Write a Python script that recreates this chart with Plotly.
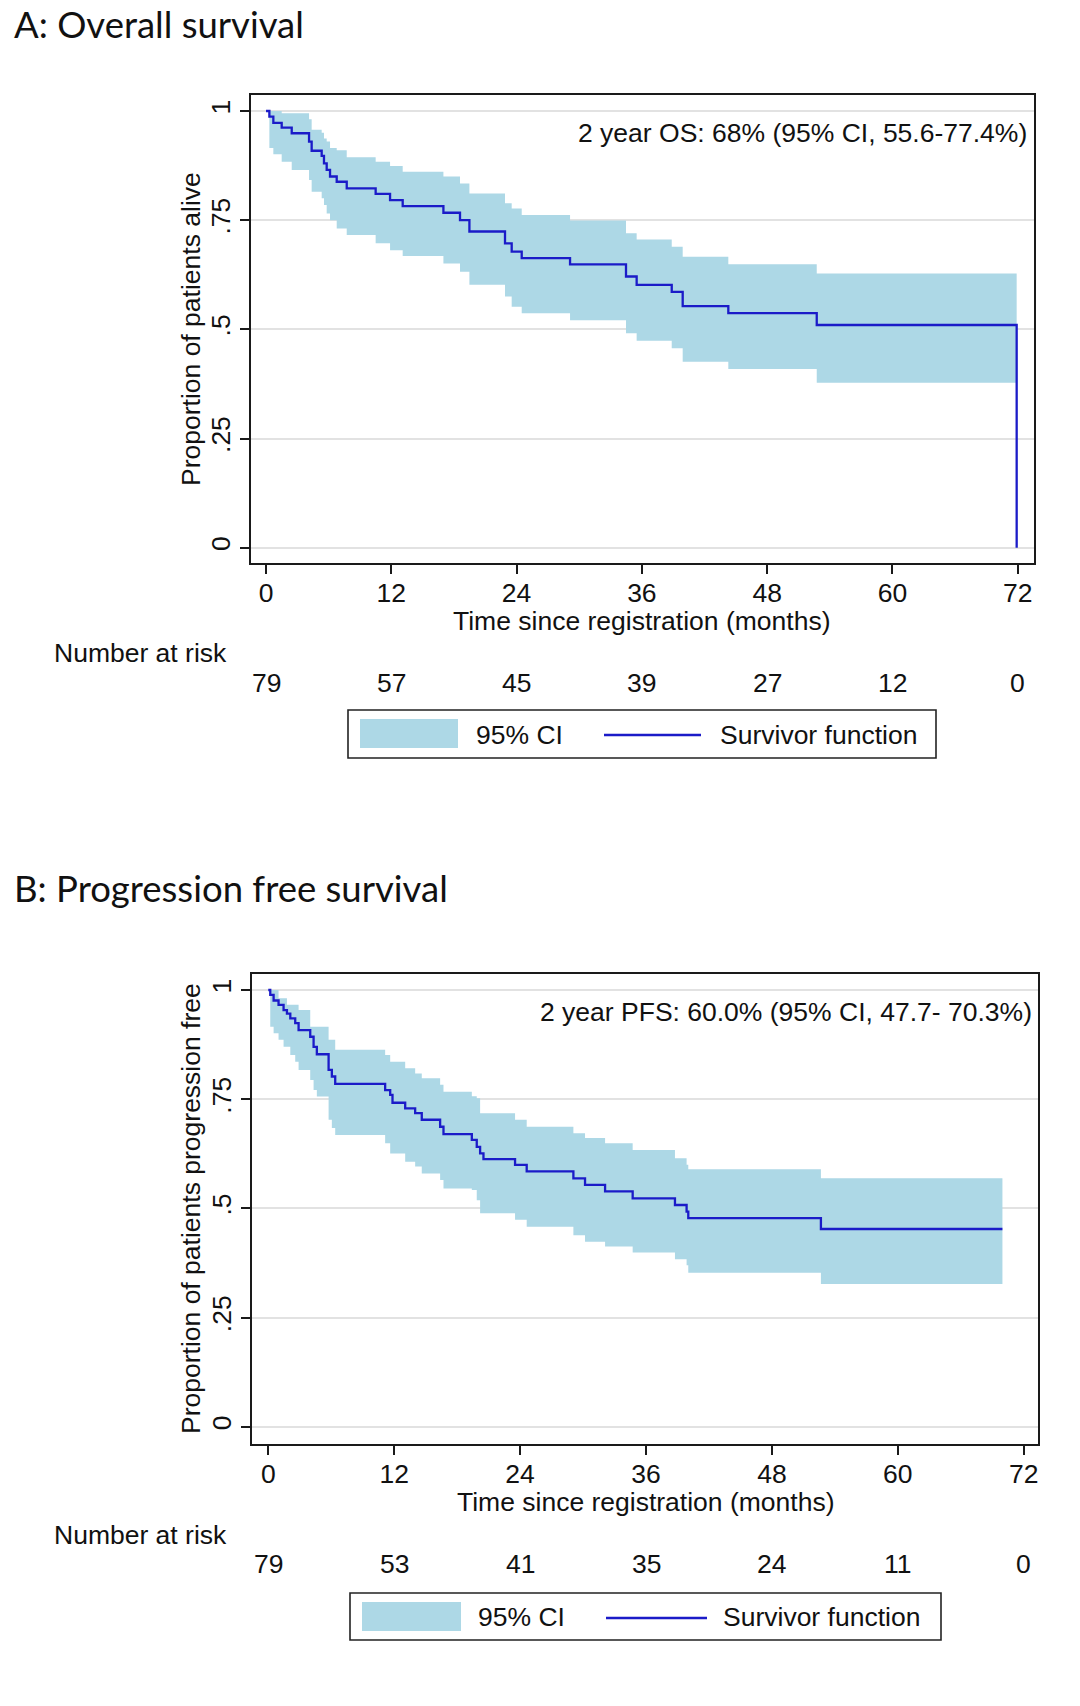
import plotly.graph_objects as go

W, H = 1080, 1706

# ---------------- Data: A, Overall survival ----------------
os_time = [0, 0.32, 0.70, 1.50, 2.46, 4.12, 4.37, 5.33, 5.55, 5.81, 6.13, 6.77, 7.73,
           10.50, 11.88, 13.09, 16.99, 18.58, 19.48, 22.89, 23.53, 24.49, 29.12,
           34.48, 35.50, 38.86, 39.91, 44.28, 52.75, 71.90]
os_surv = [1.0, 0.987, 0.973, 0.962, 0.949, 0.930, 0.909, 0.897, 0.880, 0.865, 0.850, 0.838, 0.823,
           0.810, 0.796, 0.782, 0.767, 0.750, 0.724, 0.697, 0.678, 0.663, 0.649,
           0.621, 0.602, 0.586, 0.553, 0.537, 0.510, 0.0]
os_lo = [1.0, 0.915, 0.901, 0.884, 0.865, 0.842, 0.815, 0.800, 0.785, 0.765, 0.750, 0.731, 0.716,
         0.697, 0.681, 0.668, 0.651, 0.632, 0.602, 0.575, 0.552, 0.537, 0.521,
         0.491, 0.474, 0.457, 0.426, 0.409, 0.378]
os_hi = [1.0, 1.0, 1.0, 0.995, 0.995, 0.981, 0.957, 0.950, 0.937, 0.930, 0.915, 0.910, 0.894,
         0.884, 0.874, 0.861, 0.850, 0.834, 0.811, 0.789, 0.777, 0.762, 0.749,
         0.720, 0.706, 0.689, 0.666, 0.649, 0.628]
os_note = "2 year OS: 68% (95% CI, 55.6-77.4%)"

# ---------------- Data: B, Progression free survival ----------------
pfs_time = [0, 0.19, 0.51, 0.98, 1.46, 1.78, 2.10, 2.57, 2.89, 4.00, 4.32, 4.63, 5.75, 6.06, 6.38,
            11.14, 11.62, 11.84, 13.05, 14.00, 14.63, 16.38, 16.70, 19.40, 19.87, 20.19, 20.51,
            23.52, 24.63, 29.08, 30.19, 32.10, 34.73, 38.76, 39.87, 40.03, 52.67]
pfs_surv = [1.0, 0.989, 0.976, 0.966, 0.954, 0.946, 0.935, 0.924, 0.908, 0.893, 0.870, 0.853, 0.817, 0.802, 0.785,
            0.771, 0.760, 0.742, 0.729, 0.718, 0.703, 0.687, 0.670, 0.657, 0.641, 0.626, 0.613,
            0.600, 0.585, 0.569, 0.554, 0.539, 0.523, 0.508, 0.493, 0.478, 0.453]
pfs_lo = [1.0, 0.916, 0.901, 0.886, 0.870, 0.870, 0.851, 0.836, 0.817, 0.794, 0.771, 0.756, 0.703, 0.684, 0.668,
          0.649, 0.626, 0.626, 0.607, 0.596, 0.580, 0.565, 0.546, 0.542, 0.519, 0.489, 0.489,
          0.474, 0.458, 0.439, 0.424, 0.413, 0.399, 0.384, 0.370, 0.353, 0.327]
pfs_hi = [1.0, 1.0, 1.0, 0.981, 0.981, 0.966, 0.966, 0.966, 0.954, 0.916, 0.916, 0.916, 0.886, 0.886, 0.863,
          0.851, 0.836, 0.836, 0.821, 0.809, 0.798, 0.783, 0.767, 0.757, 0.752, 0.718, 0.718,
          0.703, 0.687, 0.672, 0.661, 0.649, 0.634, 0.615, 0.600, 0.590, 0.569]
pfs_end = 69.97
pfs_note = "2 year PFS: 60.0% (95% CI, 47.7- 70.3%)"

# ---------------- Axis / risk table ----------------
risk_times = [0, 12, 24, 36, 48, 60, 72]
os_risk = [79, 57, 45, 39, 27, 12, 0]
pfs_risk = [79, 53, 41, 35, 24, 11, 0]
y_ticks = [0, 0.25, 0.5, 0.75, 1]
y_ticktext = ["0", ".25", ".5", ".75", "1"]

CI_COLOR = "#add8e6"
LINE_COLOR = "#1b1bc8"
AX_COLOR = "#1a1a1a"
FONT = "Liberation Sans, Arial, Helvetica, sans-serif"
TITLE_FONT = "Lato, Open Sans, sans-serif"
FS = 26.5


def fx(p):
    return p / W


def fy(p):
    return 1 - p / H


fig = go.Figure()

# ---- Panel A ----
band_x = os_time
band_lo = os_lo + [os_lo[-1]]
band_hi = os_hi + [os_hi[-1]]
fig.add_trace(go.Scatter(x=band_x, y=band_lo, mode="lines", line=dict(width=0, shape="hv"),
                         xaxis="x", yaxis="y", hoverinfo="skip", showlegend=False))
fig.add_trace(go.Scatter(x=band_x, y=band_hi, mode="lines", line=dict(width=0, shape="hv"),
                         fill="tonexty", fillcolor=CI_COLOR, xaxis="x", yaxis="y",
                         name="95% CI", showlegend=False))
fig.add_trace(go.Scatter(x=os_time, y=os_surv, mode="lines",
                         line=dict(color=LINE_COLOR, width=2.3, shape="hv"),
                         xaxis="x", yaxis="y", name="Survivor function", showlegend=False))

# ---- Panel B ----
bx = pfs_time + [pfs_end]
fig.add_trace(go.Scatter(x=bx, y=pfs_lo + [pfs_lo[-1]], mode="lines", line=dict(width=0, shape="hv"),
                         xaxis="x2", yaxis="y2", hoverinfo="skip", showlegend=False))
fig.add_trace(go.Scatter(x=bx, y=pfs_hi + [pfs_hi[-1]], mode="lines", line=dict(width=0, shape="hv"),
                         fill="tonexty", fillcolor=CI_COLOR, xaxis="x2", yaxis="y2",
                         name="95% CI", showlegend=False))
fig.add_trace(go.Scatter(x=bx, y=pfs_surv + [pfs_surv[-1]], mode="lines",
                         line=dict(color=LINE_COLOR, width=2.3, shape="hv"),
                         xaxis="x2", yaxis="y2", name="Survivor function", showlegend=False))

tickfont = dict(family=FONT, size=FS, color="#111111")


def xaxis_cfg(domain, rng):
    return dict(domain=domain, range=rng, tickvals=risk_times, ticks="outside", ticklen=9,
                tickwidth=1.5, tickcolor=AX_COLOR, showline=True, linecolor=AX_COLOR,
                linewidth=1.6, mirror=True, showgrid=False, zeroline=False,
                tickfont=tickfont, ticklabelstandoff=-4, fixedrange=True)


def yaxis_cfg(domain, rng, anchor):
    return dict(domain=domain, range=rng, tickvals=y_ticks, ticktext=y_ticktext, tickangle=-90,
                ticks="outside", ticklen=9, tickwidth=1.5, tickcolor=AX_COLOR, showline=True,
                linecolor=AX_COLOR, linewidth=1.6, mirror=True, showgrid=True,
                gridcolor="#e2e2e2", gridwidth=1.5, zeroline=False, tickfont=tickfont,
                anchor=anchor, fixedrange=True)


# pixel geometry of the two plot frames
A_l, A_r, A_t, A_b = 251, 1034, 95, 563
B_l, B_r, B_t, B_b = 252, 1038, 974, 1444

fig.update_layout(
    width=W, height=H,
    margin=dict(l=0, r=0, t=0, b=0),
    paper_bgcolor="white", plot_bgcolor="white",
    font=dict(family=FONT, size=FS, color="#111111"),
    xaxis=xaxis_cfg([fx(A_l), fx(A_r)], [-1.44, 73.56]) | dict(anchor="y"),
    yaxis=yaxis_cfg([fy(A_b), fy(A_t)], [-0.035, 1.0366], "x"),
    xaxis2=xaxis_cfg([fx(B_l), fx(B_r)], [-1.55, 73.36]) | dict(anchor="y2"),
    yaxis2=yaxis_cfg([fy(B_b), fy(B_t)], [-0.039, 1.0366], "x2"),
    showlegend=False,
)

ann = []
shapes = []


def panel_text(title, title_y, ytitle, ytitle_y, note, note_y, xref, xt_y, nr_y, num_y, risk,
               leg):
    ann.append(dict(text=title, x=fx(12), y=fy(title_y), xref="paper", yref="paper",
                    xanchor="left", yanchor="middle", showarrow=False,
                    font=dict(family=TITLE_FONT, size=36.5, color="#111111")))
    ann.append(dict(text=ytitle, x=fx(191), y=fy(ytitle_y), xref="paper", yref="paper",
                    textangle=-90, xanchor="center", yanchor="middle", showarrow=False,
                    font=dict(family=FONT, size=FS)))
    ann.append(dict(text=note, x=fx(leg["note_r"]), y=fy(note_y), xref="paper", yref="paper",
                    xanchor="right", yanchor="middle", showarrow=False,
                    font=dict(family=FONT, size=FS)))
    ann.append(dict(text="Time since registration (months)", x=36, y=fy(xt_y), xref=xref,
                    yref="paper", xanchor="center", yanchor="middle", showarrow=False,
                    font=dict(family=FONT, size=FS)))
    ann.append(dict(text="Number at risk", x=fx(229), y=fy(nr_y), xref="paper", yref="paper",
                    xanchor="right", yanchor="middle", showarrow=False,
                    font=dict(family=FONT, size=FS)))
    for t, n in zip(risk_times, risk):
        ann.append(dict(text=str(n), x=t, y=fy(num_y), xref=xref, yref="paper",
                        xanchor="center", yanchor="middle", showarrow=False,
                        font=dict(family=FONT, size=FS)))
    # legend box
    shapes.append(dict(type="rect", xref="paper", yref="paper",
                       x0=fx(leg["x0"]), x1=fx(leg["x1"]), y0=fy(leg["y1"]), y1=fy(leg["y0"]),
                       line=dict(color="#222222", width=1.6), fillcolor="white"))
    shapes.append(dict(type="rect", xref="paper", yref="paper",
                       x0=fx(leg["sw0"]), x1=fx(leg["sw1"]), y0=fy(leg["swb"]), y1=fy(leg["swt"]),
                       line=dict(width=0), fillcolor=CI_COLOR))
    shapes.append(dict(type="line", xref="paper", yref="paper",
                       x0=fx(leg["ln0"]), x1=fx(leg["ln1"]), y0=fy(leg["lny"]), y1=fy(leg["lny"]),
                       line=dict(color=LINE_COLOR, width=2.3)))
    ann.append(dict(text="95% CI", x=fx(leg["t1"]), y=fy(leg["ty"]), xref="paper", yref="paper",
                    xanchor="left", yanchor="middle", showarrow=False,
                    font=dict(family=FONT, size=FS)))
    ann.append(dict(text="Survivor function", x=fx(leg["t2"]), y=fy(leg["ty"]), xref="paper",
                    yref="paper", xanchor="left", yanchor="middle", showarrow=False,
                    font=dict(family=FONT, size=FS)))


panel_text("A: Overall survival", 24, "Proportion of patients alive", 329, os_note, 133,
           "x", 621, 653, 683, os_risk,
           dict(note_r=1029, x0=348, x1=936, y0=710, y1=758, sw0=360, sw1=458, swt=719, swb=748,
                ln0=604, ln1=701, lny=735, t1=474, t2=718, ty=735))
panel_text("B: Progression free survival", 888, "Proportion of patients progression free", 1209,
           pfs_note, 1012, "x2", 1502, 1535, 1564, pfs_risk,
           dict(note_r=1034, x0=350, x1=941, y0=1593, y1=1640, sw0=362, sw1=461, swt=1602,
                swb=1631, ln0=606, ln1=707, lny=1618, t1=476, t2=721, ty=1617))

fig.update_layout(annotations=ann, shapes=shapes)

fig.write_html("out.html", config={"displayModeBar": False},
               post_script="document.body.style.margin='0px';")
